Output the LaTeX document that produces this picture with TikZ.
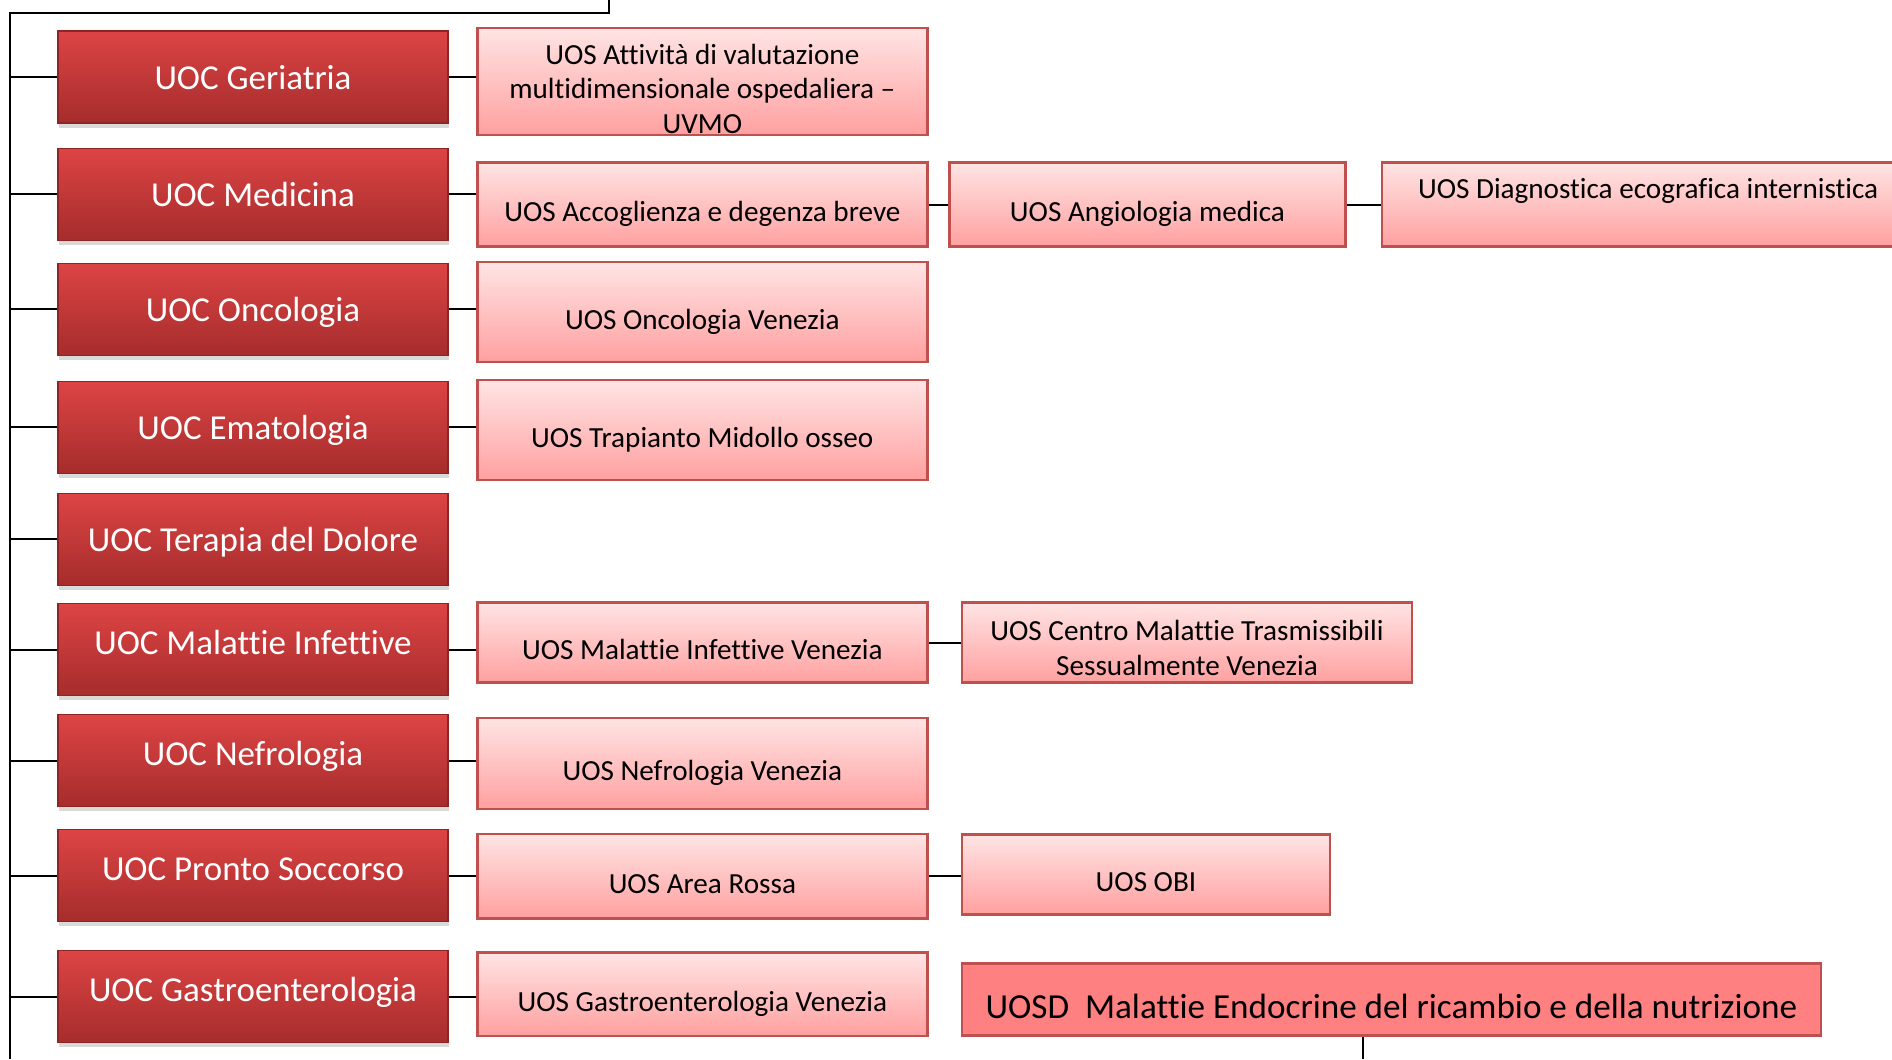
\documentclass[tikz,border=0pt]{standalone}
\usepackage{fontspec}
\setmainfont{Carlito}[Ligatures=NoCommon]
\usepackage{xcolor}
\definecolor{uocred}{RGB}{221, 68, 68}
\definecolor{uocdark}{RGB}{166, 44, 44}
\definecolor{uosborder}{RGB}{192, 80, 77}
\definecolor{uostop}{RGB}{255, 228, 228}
\definecolor{uosbottom}{RGB}{255, 160, 160}
\definecolor{uosdfill}{RGB}{255, 128, 128}
\usepackage{tikz}
\usetikzlibrary{
    positioning,
    shadows,
    calc
}

\begin{document}
\begin{tikzpicture}[
    node distance=0.455cm and 0.55cm,
    every text node part/.style={align=center},
    uoc/.style={draw=uocdark!85!black, line width=0.6pt, top color=uocred, bottom color=uocdark, text=white, minimum width=7.8cm, minimum height=1.84cm, inner sep=0pt, font=\fontsize{19.9}{24}\selectfont, text height=17pt, text depth=2.6pt, drop shadow={opacity=0.3, shadow xshift=0.02cm, shadow yshift=-0.09cm}},
    uochigh/.style={uoc, text height=11pt, text depth=6.2pt},
    uos/.style={draw=uosborder, line width=1.5pt, top color=uostop, bottom color=uosbottom, minimum width=9.0cm, inner sep=0pt, font=\fontsize{16.6}{19.9}\selectfont, text height=22.5pt, text depth=3pt},
    multi/.style={text height=, text depth=},
    uosd/.style={draw=uosborder, line width=1.5pt, fill=uosdfill, minimum width=17.18cm, minimum height=1.44cm, inner sep=0pt, font=\fontsize{20}{24}\selectfont, text height=25pt, text depth=3.5pt},
    link/.style={draw=black, line width=1.2pt}
]
\useasboundingbox (0,0) rectangle (37.84,-21.18);

% ==================== UOC COLUMN ====================
\node[uoc] (geriatria) at (5.06,-1.54) {UOC Geriatria};
\node[uoc, below=0.48cm of geriatria] (medicina) {UOC Medicina};
\node[uoc, below=0.44cm of medicina] (oncologia) {UOC Oncologia};
\node[uoc, below=0.50cm of oncologia] (ematologia) {UOC Ematologia};
\node[uoc, below=0.38cm of ematologia] (terapia) {UOC Terapia del Dolore};
\node[uochigh, below=0.35cm of terapia] (malinf) {UOC Malattie Infettive};
\node[uochigh, below=0.36cm of malinf] (nefrologia) {UOC Nefrologia};
\node[uochigh, below=0.44cm of nefrologia] (pronto) {UOC Pronto Soccorso};
\node[uochigh, below=0.56cm of pronto] (gastro) {UOC Gastroenterologia};

% ==================== UOS FIRST LEVEL ====================
\node[uos, multi, minimum height=2.14cm, right=of geriatria, yshift=-0.09cm] (attivita) {\rule{0pt}{20pt}UOS Attività di valutazione\\multidimensionale ospedaliera –\\UVMO};
\node[uos, minimum height=1.68cm, right=of medicina, yshift=-0.21cm] (accoglienza) {UOS Accoglienza e degenza breve};
\node[uos, minimum height=2.0cm, right=of oncologia, yshift=-0.06cm] (oncologia_ve) {UOS Oncologia Venezia};
\node[uos, minimum height=2.0cm, right=of ematologia, yshift=-0.06cm] (trapianto) {UOS Trapianto Midollo osseo};
\node[uos, minimum height=1.6cm, right=of malinf, yshift=0.14cm] (malinf_ve) {UOS Malattie Infettive Venezia};
\node[uos, minimum height=1.82cm, right=of nefrologia, yshift=-0.05cm] (nefrologia_ve) {UOS Nefrologia Venezia};
\node[uos, minimum height=1.69cm, right=of pronto, yshift=-0.01cm] (area_rossa) {UOS Area Rossa};
\node[uos, minimum height=1.67cm, right=of gastro, yshift=0.055cm] (gastro_ve) {UOS Gastroenterologia Venezia};

% ==================== UOS SECOND LEVEL ====================
\node[uos, minimum width=7.92cm, minimum height=1.68cm, right=0.39cm of accoglienza] (angiologia) {UOS Angiologia medica};
\node[uos, minimum width=10.64cm, minimum height=1.68cm, text height=10.5pt, text depth=17.5pt, right=0.68cm of angiologia] (diagnostica) {UOS Diagnostica ecografica internistica};
\node[uos, multi, minimum height=1.6cm, right=0.64cm of malinf_ve] (centro) {\rule{0pt}{17pt}UOS Centro Malattie Trasmissibili\\Sessualmente Venezia};
\node[uos, minimum width=7.36cm, minimum height=1.6cm, right=0.64cm of area_rossa, yshift=0.04cm] (obi) {UOS OBI};
\node[uosd, right=0.64cm of gastro_ve, yshift=-0.1cm] (endocrine) {UOSD\ \ Malattie Endocrine del ricambio e della nutrizione};

% ==================== CONNECTORS ====================
\coordinate (root) at (12.18,0);
\coordinate (trunk_top) at (0.2,-0.255);
\coordinate (trunk_end) at (0.2,-21.18);
\draw[link] (root) |- (trunk_top) -- (trunk_end);
\foreach \unit in {geriatria, medicina, oncologia, ematologia, terapia, malinf, nefrologia, pronto, gastro}
    \draw[link] (trunk_top |- \unit.west) -- (\unit.west);

\foreach \unit/\sub in {geriatria/attivita, medicina/accoglienza, oncologia/oncologia_ve, ematologia/trapianto, malinf/malinf_ve, nefrologia/nefrologia_ve, pronto/area_rossa, gastro/gastro_ve}
    \draw[link] (\unit.east) -- (\unit.east -| \sub.west);

\draw[link] (accoglienza.east) -- (angiologia.west);
\draw[link] (angiologia.east) -- (diagnostica.west);
\draw[link] (malinf_ve.east) -- (centro.west);
\draw[link] (area_rossa.east) -- (area_rossa.east -| obi.west);

\coordinate (endocrine_end) at ([xshift=-0.57cm]endocrine.south |- trunk_end);
\draw[link] ([xshift=-0.57cm]endocrine.south) -- (endocrine_end);

\end{tikzpicture}
\end{document}
